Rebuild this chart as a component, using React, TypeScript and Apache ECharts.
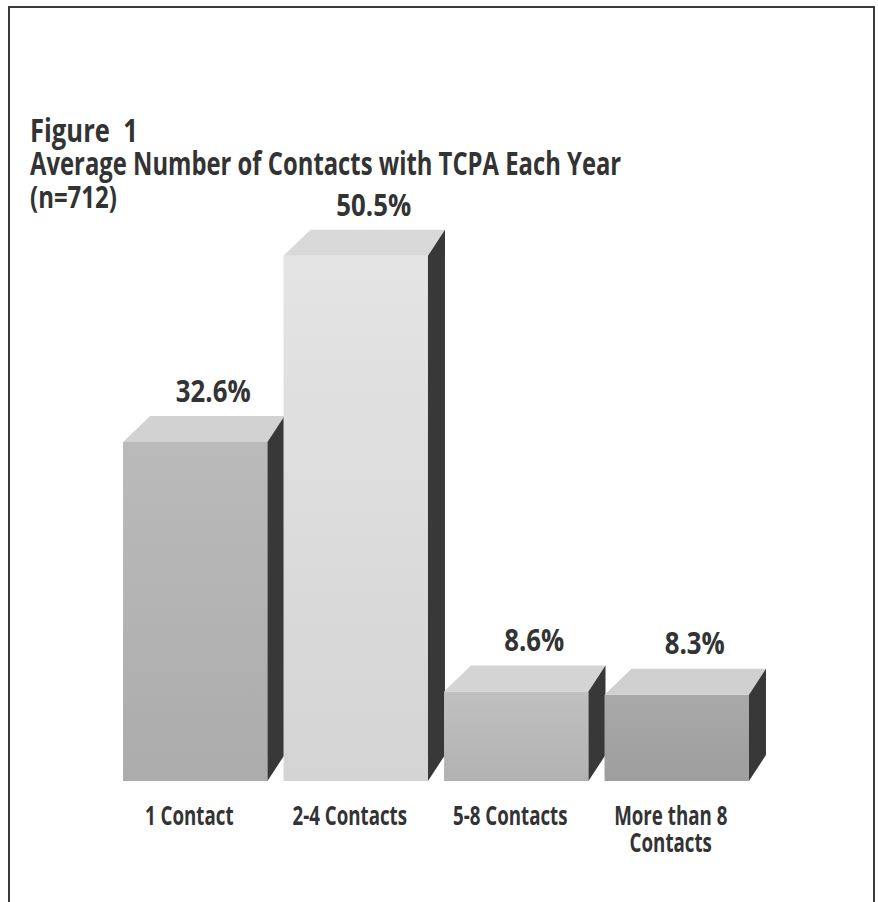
import React, { useEffect, useRef } from "react";
import * as echarts from "echarts";

const categories = ["1 Contact", "2-4 Contacts", "5-8 Contacts", "More than 8\nContacts"];
const values = [32.6, 50.5, 8.6, 8.3];
const valueLabels = ["32.6%", "50.5%", "8.6%", "8.3%"];
const titleLines = ["Figure  1", "Average Number of Contacts with TCPA Each Year", "(n=712)"];

// styles
const frontTop = ["#bababa", "#e4e4e4", "#c0c0c0", "#a9a9a9"];
const frontBottom = ["#acacac", "#d4d4d4", "#b2b2b2", "#9e9e9e"];
const topColors = ["#d2d2d2", "#d9d9d9", "#d4d4d4", "#d0d0d0"];
const sideColor = "#383838";
const textColor = "#333333";
const FONT = '"Open Sans", "Noto Sans", sans-serif';

export default function App() {
  const ref = useRef<HTMLDivElement>(null);
  useEffect(() => {
    if (!ref.current) return;
    const chart = echarts.init(ref.current, undefined, { renderer: "svg" });
    const renderItem = (params: any, api: any) => {
      const i = params.dataIndex;
      const x = api.value(0);
      const v = api.value(1);
      const [cx, top] = api.coord([x, v]);
      const base = api.coord([x, 0])[1];
      const w = api.size([1, 0])[0] * 0.9;
      const L = cx - w / 2;
      const R = cx + w / 2;
      const dxL = 27;
      const dxR = 17;
      const dy = 26;
      return {
        type: "group",
        children: [
          {
            type: "rect",
            shape: { x: L, y: top, width: w, height: base - top },
            style: {
              fill: new echarts.graphic.LinearGradient(0, 0, 0, 1, [
                { offset: 0, color: frontTop[i] },
                { offset: 1, color: frontBottom[i] },
              ]),
            },
          },
          {
            type: "polygon",
            shape: { points: [[L, top], [L + dxL, top - dy], [R + dxR, top - dy], [R, top]] },
            style: { fill: topColors[i] },
          },
          {
            type: "polygon",
            shape: { points: [[R, top], [R + dxR, top - dy], [R + dxR, base - dy], [R, base]] },
            style: { fill: sideColor },
          },
          {
            type: "text",
            x: cx + 18,
            y: top - dy - 11,
            scaleX: 0.86,
            style: {
              text: valueLabels[i],
              font: `bold 30px ${FONT}`,
              fill: textColor,
              textAlign: "center",
              textVerticalAlign: "bottom",
            },
          },
          {
            type: "text",
            x: cx - 6,
            y: base + 21,
            scaleX: 0.72,
            style: {
              text: categories[i],
              font: `bold 26px ${FONT}`,
              lineHeight: 27,
              fill: textColor,
              textAlign: "center",
              textVerticalAlign: "top",
            },
          },
        ],
      };
    };
    chart.setOption({
      animation: false,
      backgroundColor: "#ffffff",
      grid: { left: 115, width: 642, top: 157, bottom: 121 },
      xAxis: { type: "category", data: categories, show: false },
      yAxis: { type: "value", min: 0, max: 60, show: false },
      graphic: [
        {
          type: "rect",
          shape: { x: 9, y: 7, width: 865, height: 930 },
          style: { fill: "none", stroke: "#3a3a3a", lineWidth: 2 },
          z: -1,
        },
        {
          type: "text",
          x: 30,
          y: 113,
          scaleX: 0.8,
          style: { text: titleLines[0], font: `bold 32px ${FONT}`, fill: textColor },
        },
        {
          type: "text",
          x: 30,
          y: 147,
          scaleX: 0.745,
          style: { text: titleLines[1], font: `bold 32px ${FONT}`, fill: textColor },
        },
        {
          type: "text",
          x: 30,
          y: 181,
          scaleX: 0.8,
          style: { text: titleLines[2], font: `bold 30px ${FONT}`, fill: textColor },
        },
      ],
      series: [
        {
          type: "custom",
          renderItem,
          data: values.map((v, i) => [i, v]),
        },
      ],
    });
    return () => chart.dispose();
  }, []);
  return <div ref={ref} style={{ position: "absolute", left: 0, top: 0, width: 878, height: 902 }} />;
}
